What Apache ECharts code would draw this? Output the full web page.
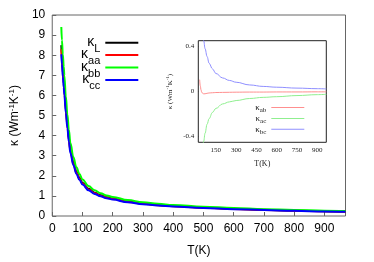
<!DOCTYPE html>
<html><head><meta charset="utf-8">
<script src="https://cdn.jsdelivr.net/npm/echarts@6/dist/echarts.min.js"></script>
<style>html,body{margin:0;padding:0;background:#fff}#c{width:374px;height:262px}</style>
</head><body><div id="c"></div>
<script>
// ---- main plot data ----
const T = [30, 32, 35, 38, 40, 45, 50, 55, 60, 70, 80, 90, 100, 120, 140, 160, 180, 200, 250, 300, 350, 400, 500, 600, 700, 800, 900, 970];
const kL  = [8.5, 7.95, 7.3, 6.75, 6.35, 5.4, 4.6, 3.9, 3.3, 2.65, 2.2, 1.9, 1.65, 1.35, 1.16, 1.03, 0.93, 0.86, 0.72, 0.62, 0.55, 0.5, 0.42, 0.36, 0.31, 0.27, 0.24, 0.22];
const kaa = [8.3, 7.75, 7.12, 6.58, 6.19, 5.27, 4.49, 3.8, 3.22, 2.58, 2.15, 1.85, 1.61, 1.32, 1.13, 1.0, 0.91, 0.84, 0.7, 0.605, 0.537, 0.488, 0.41, 0.351, 0.302, 0.263, 0.234, 0.215];
const kbb = [9.4, 8.75, 8.03, 7.43, 6.99, 5.94, 5.06, 4.29, 3.63, 2.92, 2.42, 2.09, 1.82, 1.49, 1.28, 1.13, 1.02, 0.95, 0.79, 0.68, 0.605, 0.55, 0.46, 0.4, 0.34, 0.3, 0.265, 0.245];
const kcc = [8.05, 7.55, 6.93, 6.41, 6.03, 5.13, 4.37, 3.7, 3.13, 2.52, 2.09, 1.8, 1.57, 1.28, 1.1, 0.98, 0.88, 0.82, 0.68, 0.59, 0.52, 0.475, 0.4, 0.34, 0.295, 0.255, 0.228, 0.209];
const mainNames = ['κL', 'κaa', 'κbb', 'κcc'];
const mainXTicks = [0, 100, 200, 300, 400, 500, 600, 700, 800, 900];
const mainYTicks = [0, 1, 2, 3, 4, 5, 6, 7, 8, 9, 10];

// ---- inset data ----
const Ti  = [30, 35, 40, 45, 50, 60, 70, 85, 100, 125, 150, 200, 250, 300, 400, 500, 600, 750, 900, 967];
const kab = [0.105, 0.05, 0.015, -0.005, -0.014, -0.021, -0.02, -0.016, -0.013, -0.011, -0.009, -0.008, -0.007, -0.006, -0.005, -0.005, -0.004, -0.004, -0.003, -0.003];
const kbc = [0.9, 0.77, 0.68, 0.6, 0.54, 0.45, 0.38, 0.31, 0.25, 0.2, 0.16, 0.12, 0.098, 0.082, 0.058, 0.045, 0.038, 0.03, 0.025, 0.023];
const kac = [-0.85, -0.74, -0.65, -0.58, -0.52, -0.44, -0.37, -0.29, -0.24, -0.185, -0.15, -0.11, -0.092, -0.08, -0.062, -0.052, -0.046, -0.036, -0.028, -0.025];
const insetNames = ['κab', 'κac', 'κbc'];
const insetXTicks = [150, 300, 450, 600, 750, 900];
const insetYTicks = [-0.4, 0, 0.4];

const sans = 'Liberation Sans';
const serif = 'Liberation Serif';
function pairs(xs, ys) { return xs.map((x, i) => [x, ys[i]]); }

const chart = echarts.init(document.getElementById('c'), null, {renderer: 'canvas'});

function mainLine(name, data, color) {
  return {name, type: 'line', xAxisIndex: 0, yAxisIndex: 0, data: pairs(T, data),
    showSymbol: false, smooth: 0.4, smoothMonotone: 'x',
    lineStyle: {width: 2, color}, itemStyle: {color}, z: 2};
}
function insetLine(name, data, color) {
  return {name, type: 'line', xAxisIndex: 1, yAxisIndex: 1, data: pairs(Ti, data),
    showSymbol: false, smooth: 0.4, smoothMonotone: 'x',
    lineStyle: {width: 1, color}, itemStyle: {color}, z: 10};
}

// one legend box per main entry, so the tight gnuplot spacing can be kept
const mainLegends = mainNames.map((n, i) => ({
  orient: 'vertical', align: 'right', right: 230.7, top: 41.7 + 12.4 * i - 11.5,
  itemWidth: 33, itemHeight: 2, icon: 'rect', data: [n], z: 20,
  formatter: nm => '{k|κ}{s|' + nm.slice(1) + '}',
  textStyle: {color: '#000', rich: {
    k: {fontSize: 14, fontFamily: sans, color: '#000', padding: [4, 0, 0, 0], verticalAlign: 'top'},
    s: {fontSize: 11, fontFamily: sans, color: '#000', padding: [12, 0, 0, 0], verticalAlign: 'top'}}}
}));

const option = {
  animation: false,
  backgroundColor: '#fff',
  grid: [
    {left: 41, top: 15, width: 304.5, height: 207, show: true, borderColor: '#666', borderWidth: 1, backgroundColor: 'transparent'},
    {left: 198.3, top: 40.7, width: 128, height: 101.6, show: true, borderColor: '#222', borderWidth: 1, backgroundColor: '#fff', z: 5}
  ],
  xAxis: [
    {gridIndex: 0, type: 'value', min: 0, max: 970, interval: 100,
      axisLine: {show: false}, splitLine: {show: false},
      axisTick: {inside: true, length: 4, customValues: mainXTicks, lineStyle: {color: '#666'}},
      axisLabel: {customValues: mainXTicks, fontSize: 12, color: '#000', fontFamily: sans, margin: 7},
      name: 'T(K)', nameLocation: 'middle', nameGap: 29,
      nameTextStyle: {fontSize: 12, color: '#000', fontFamily: sans}},
    {gridIndex: 1, type: 'value', min: 20, max: 967, interval: 150,
      axisLine: {show: false}, splitLine: {show: false},
      axisTick: {inside: true, length: 3, customValues: insetXTicks, lineStyle: {color: '#222'}},
      axisLabel: {customValues: insetXTicks, fontSize: 7, color: '#222', fontFamily: serif, margin: 4},
      name: 'T(K)', nameLocation: 'middle', nameGap: 18,
      nameTextStyle: {fontSize: 8, color: '#222', fontFamily: serif}}
  ],
  yAxis: [
    {gridIndex: 0, type: 'value', min: 0, max: 10, interval: 1,
      axisLine: {show: false}, splitLine: {show: false},
      axisTick: {inside: true, length: 4, customValues: mainYTicks, lineStyle: {color: '#666'}},
      axisLabel: {customValues: mainYTicks, fontSize: 12, color: '#000', fontFamily: sans, margin: 7},
      name: '{a|κ (Wm}{p|-1}{a|K}{p|-1}{a|)}', nameLocation: 'middle', nameGap: 26, nameRotate: 90,
      nameTextStyle: {fontSize: 12, color: '#000', fontFamily: sans,
        rich: {a: {fontSize: 12, fontFamily: sans, color: '#000', lineHeight: 14},
               p: {fontSize: 8, fontFamily: sans, color: '#000', lineHeight: 8, verticalAlign: 'top'}}}},
    {gridIndex: 1, type: 'value', min: -0.45, max: 0.45, interval: 0.45,
      axisLine: {show: false}, splitLine: {show: false},
      axisTick: {inside: true, length: 3, customValues: insetYTicks, lineStyle: {color: '#222'}},
      axisLabel: {customValues: insetYTicks, fontSize: 7, color: '#222', fontFamily: serif, margin: 4},
      name: '{a|κ (Wm}{p|-1}{a|K}{p|-1}{a|)}', nameLocation: 'middle', nameGap: 24, nameRotate: 90,
      nameTextStyle: {fontSize: 7, color: '#222', fontFamily: serif,
        rich: {a: {fontSize: 7, fontFamily: serif, color: '#222', lineHeight: 9},
               p: {fontSize: 5, fontFamily: serif, color: '#222', lineHeight: 5, verticalAlign: 'top'}}}}
  ],
  legend: mainLegends.concat([
    {orient: 'vertical', align: 'right', right: 64.7, top: 98, itemWidth: 33, itemHeight: 1, itemGap: 0.4,
      icon: 'rect', data: insetNames, z: 20,
      formatter: n => '{k|κ}{s|' + n.slice(1) + '}',
      textStyle: {color: '#222', rich: {
        k: {fontSize: 9, fontFamily: serif, color: '#222', lineHeight: 12},
        s: {fontSize: 7, fontFamily: serif, color: '#222', lineHeight: 6, verticalAlign: 'bottom'}}}}
  ]),
  series: [
    mainLine(mainNames[0], kL, '#000000'),
    mainLine(mainNames[1], kaa, '#ff0000'),
    mainLine(mainNames[2], kbb, '#00ff00'),
    mainLine(mainNames[3], kcc, '#0000ff'),
    insetLine(insetNames[0], kab, '#ff8f8f'),
    insetLine(insetNames[1], kac, '#8fef8f'),
    insetLine(insetNames[2], kbc, '#8f8fff')
  ]
};
chart.setOption(option);
</script>
</body></html>
